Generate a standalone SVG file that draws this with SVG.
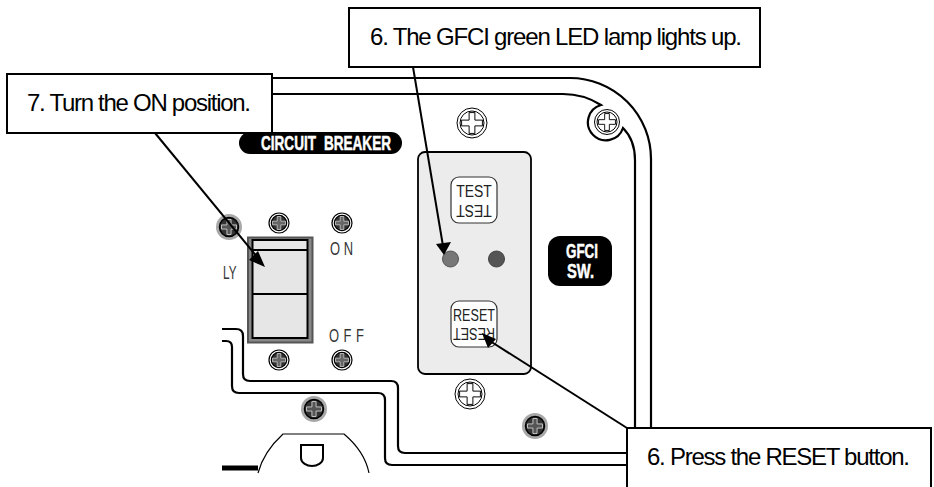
<svg xmlns="http://www.w3.org/2000/svg" width="934" height="487" viewBox="0 0 934 487">
<style>
.ln{fill:none;stroke:#000;stroke-width:2.2}
.box{fill:#fff;stroke:#000;stroke-width:2}
.cap{font-family:"Liberation Sans",Arial,sans-serif;font-size:24px;fill:#000}
.lab{font-family:"Liberation Sans",Arial,sans-serif;fill:#333}
.btxt{font-family:"Liberation Sans",Arial,sans-serif;fill:#222;font-size:17px;text-anchor:middle}
.cond{font-family:"Liberation Sans",Arial,sans-serif;font-weight:bold;fill:#fff;stroke:#fff;stroke-width:.5}
.btn{fill:#fff;stroke:#333;stroke-width:1.2}
.arr{fill:none;stroke:#000;stroke-width:2}
</style>
<defs>
<path id="cross" d="M-1.8-6.5H1.8V-1.8H6.500V1.8H1.8V6.500H-1.8V1.8H-6.500V-1.8H-1.8Z"/>
<g id="sw"><circle r="10" fill="#fff" stroke="#000" stroke-width="1.2"/><circle r="7.6" fill="#333" stroke="#000" stroke-width="1.4"/><use href="#cross" fill="#666" stroke="#ccc" stroke-width=".8"/></g>
<g id="sg"><circle r="13" fill="#a8a8a8"/><circle r="9.5" fill="#333" stroke="#000" stroke-width="1.5"/><use href="#cross" transform="scale(1.15)" fill="#555" stroke="#ccc" stroke-width=".8"/></g>
<g id="sl"><circle r="15" fill="#fff" stroke="#000" stroke-width="1"/><circle r="12" fill="#fff" stroke="#000" stroke-width="1"/><use href="#cross" transform="scale(1.6)" fill="#fff" stroke="#000" stroke-width=".6"/></g>
</defs>
<g id="housing">
<path class="ln" d="M272 78H570A81 81 0 0 1 651 159V430"/>
<path class="ln" d="M272 94H563C578 94 590 98 601 105A18 18 0 1 0 623 128C631 136 635 147 635 160V430"/>
<path class="ln" d="M222 329H236Q243 329 243 336V374Q243 381 250 381H391Q398 381 398 388V446Q398 453 405 453H628"/>
<path class="ln" d="M222 341H226Q232 341 232 347V386Q232 393 239 393H378Q385 393 385 400V458Q385 465 392 465H628"/>
<path d="M258 473C262 458 271 445 283 434H344C357 445 366 458 369 473" fill="none" stroke="#000" stroke-width="1.2"/>
<path d="M222 468H258" stroke="#000" stroke-width="5"/>
<path d="M301 445H323V458C323 463 317 466 312 466C307 466 301 463 301 458Z" fill="none" stroke="#000" stroke-width="2"/>
</g>
<g id="circuit-breaker-label"><rect x="239" y="132" width="163" height="22" rx="11" fill="#000"/><text class="cond" x="261" y="150" font-size="19.5" word-spacing="6" textLength="130" lengthAdjust="spacingAndGlyphs">CIRCUIT BREAKER</text></g>
<g id="switch">
<rect x="248" y="237.500" width="64.500" height="105" fill="#888" stroke="#555" stroke-width="2"/>
<rect x="252.500" y="240" width="55" height="98" fill="#e6e6e6" stroke="#000" stroke-width="2"/>
<path d="M252 250H308M252 294H308" stroke="#000" stroke-width="2"/>
<text class="lab" transform="translate(330 255) scale(.72 1)" font-size="18" letter-spacing="5">ON</text>
<text class="lab" transform="translate(329 342) scale(.72 1)" font-size="18" letter-spacing="6.300">OFF</text>
<text class="lab" transform="translate(223 279) scale(.65 1)" font-size="18">LY</text>
</g>
<g id="screws">
<use href="#sg" x="229" y="227"/><use href="#sw" x="279" y="223"/><use href="#sw" x="342" y="223"/>
<use href="#sw" x="279" y="360"/><use href="#sw" x="342" y="360"/><use href="#sg" x="314" y="409"/>
<use href="#sg" x="535" y="426"/><use href="#sl" x="470" y="394"/><use href="#sl" x="472" y="123"/>
<g transform="translate(607 122)"><circle r="12.500" fill="#fff" stroke="#000" stroke-width="1"/><circle r="10" fill="#fff" stroke="#000" stroke-width="1"/><use href="#cross" transform="scale(1.3)" fill="#fff" stroke="#000" stroke-width=".7"/></g>
</g>
<g id="gfci-panel">
<rect x="418" y="152" width="113" height="222" rx="7" fill="#ececec" stroke="#000" stroke-width="1.8"/>
<rect class="btn" x="451" y="177" width="46" height="46" rx="8"/>
<text class="btxt" transform="translate(474 197) scale(.82 1)">TEST</text>
<text class="btxt" transform="translate(474 205) rotate(180) scale(.82 1)">TEST</text>
<circle cx="450.500" cy="259" r="8" fill="#777" stroke="#555"/><circle cx="496.500" cy="259" r="8" fill="#555" stroke="#444"/>
<rect class="btn" x="451" y="301" width="46" height="46" rx="8"/>
<text class="btxt" transform="translate(474 321) scale(.74 1)">RESET</text>
<text class="btxt" transform="translate(474 328) rotate(180) scale(.74 1)">RESET</text>
</g>
<g id="gfci-label"><rect x="548" y="236" width="64" height="50" rx="12" fill="#000"/>
<text class="cond" x="566" y="258" font-size="21" textLength="32" lengthAdjust="spacingAndGlyphs">GFCI</text>
<text class="cond" x="567" y="278" font-size="20" textLength="27" lengthAdjust="spacingAndGlyphs">SW.</text></g>
<g id="connectors">
<path class="arr" d="M155 133L258 258"/><path d="M265 267L249 260L258 251Z"/>
<path class="arr" d="M413 67L443 246"/><path d="M444 255L436 244L451 242Z"/>
<path class="arr" d="M627 428L490 341"/><path d="M482 333L496 339L488 348Z"/>
</g>
<g id="callout-7"><rect class="box" x="7" y="74" width="265" height="59"/><text class="cap" x="27" y="111" textLength="224">7. Turn the ON position.</text></g>
<g id="callout-6a"><rect class="box" x="349" y="8" width="411" height="59"/><text class="cap" x="370" y="45" textLength="372">6. The GFCI green LED lamp lights up.</text></g>
<g id="callout-6b"><rect class="box" x="627" y="428" width="304" height="62"/><text class="cap" x="647" y="465" textLength="263">6. Press the RESET button.</text></g>
</svg>
